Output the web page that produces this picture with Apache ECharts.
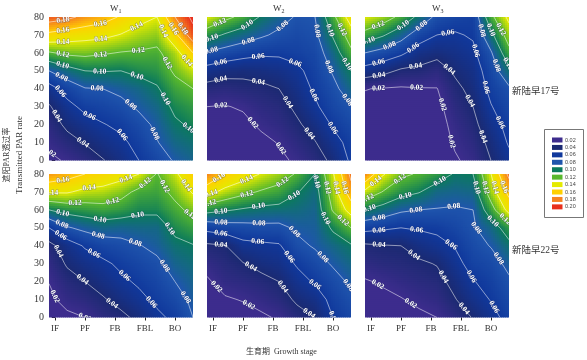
<!DOCTYPE html>
<html>
<head>
<meta charset="utf-8">
<style>html,body{margin:0;padding:0;background:#fff}#chart{width:587px;height:360px}</style>
<script src="https://cdn.jsdelivr.net/npm/echarts@6/dist/echarts.min.js"></script>
</head>
<body>
<div id="chart"></div>
<script>
const stages = ['IF', 'PF', 'FB', 'FBL', 'BO']
const xNodes = [-0.2, 0.4, 1.0, 1.6, 2.2, 2.8, 3.4, 4.0, 4.6]
const yNodes = [80, 70, 60, 50, 40, 30, 20, 10, 0]
const levels = [0.02, 0.04, 0.06, 0.08, 0.10, 0.12, 0.14, 0.16, 0.18, 0.20]
const levelColors = ['#3d2c8d', '#1b2a72', '#10389c', '#1f55ad', '#0b7a5c', '#58b82c', '#e4ea00', '#ffd000', '#f58220', '#e8301c']
const waterNames = ['1', '2', '3']
const varieties = ['新陆早17号', '新陆早22号']

// rows run from 80 down to 0, columns follow xNodes
const w1v17 = [
  [.190, .185, .175, .168, .158, .147, .140, .180, .205],
  [.155, .150, .147, .145, .139, .132, .128, .155, .192],
  [.118, .124, .125, .122, .119, .118, .116, .132, .160],
  [.080, .092, .100, .101, .100, .105, .108, .123, .136],
  [.052, .068, .079, .080, .085, .090, .098, .113, .120],
  [.038, .054, .065, .069, .074, .083, .090, .104, .110],
  [.030, .044, .052, .059, .064, .073, .084, .097, .103],
  [.024, .033, .041, .049, .056, .066, .079, .090, .095],
  [.016, .022, .030, .039, .048, .060, .070, .082, .088]
]
const w2v17 = [
  [.140, .125, .115, .098, .088, .078, .080, .115, .150],
  [.108, .098, .090, .083, .076, .072, .076, .102, .130],
  [.078, .072, .067, .063, .063, .066, .071, .090, .116],
  [.052, .047, .045, .047, .050, .056, .067, .082, .100],
  [.033, .031, .034, .036, .040, .050, .063, .075, .090],
  [.020, .019, .022, .029, .033, .044, .057, .070, .079],
  [.015, .014, .015, .023, .028, .037, .048, .062, .072],
  [.012, .011, .012, .015, .021, .030, .039, .053, .066],
  [.010, .010, .010, .012, .016, .023, .032, .044, .063]
]
const w3v17 = [
  [.140, .130, .115, .095, .075, .069, .065, .115, .145],
  [.113, .102, .088, .070, .060, .058, .062, .095, .130],
  [.080, .073, .064, .050, .046, .050, .056, .078, .114],
  [.052, .046, .037, .036, .030, .043, .050, .070, .095],
  [.0205, .019, .018, .019, .0195, .035, .046, .065, .077],
  [.016, .015, .014, .014, .015, .030, .040, .059, .071],
  [.013, .012, .012, .012, .013, .025, .035, .052, .066],
  [.011, .011, .011, .011, .011, .022, .030, .045, .062],
  [.010, .010, .010, .010, .010, .018, .025, .040, .055]
]
const w1v22 = [
  [.175, .168, .160, .155, .148, .140, .119, .136, .160],
  [.142, .142, .135, .133, .127, .115, .113, .125, .142],
  [.100, .107, .110, .113, .110, .104, .104, .115, .125],
  [.060, .078, .085, .090, .088, .090, .090, .105, .112],
  [.034, .050, .062, .070, .074, .079, .085, .095, .099],
  [.027, .042, .050, .056, .064, .070, .076, .088, .093],
  [.0205, .033, .040, .048, .056, .063, .070, .080, .088],
  [.016, .026, .031, .038, .047, .055, .064, .072, .084],
  [.013, .016, .020, .030, .035, .045, .056, .064, .080]
]
const w2v22 = [
  [.180, .160, .150, .139, .130, .118, .100, .138, .185],
  [.147, .134, .125, .118, .113, .101, .092, .130, .172],
  [.107, .102, .098, .095, .094, .092, .088, .122, .148],
  [.066, .071, .073, .075, .075, .083, .085, .103, .120],
  [.0365, .039, .054, .056, .058, .075, .082, .090, .098],
  [.026, .033, .039, .046, .050, .062, .072, .082, .090],
  [.0175, .027, .030, .034, .040, .053, .062, .073, .083],
  [.014, .018, .021, .026, .032, .043, .050, .066, .076],
  [.012, .013, .013, .017, .022, .033, .040, .060, .070]
]
const w3v22 = [
  [.180, .142, .124, .118, .110, .098, .100, .140, .185],
  [.135, .119, .107, .101, .090, .088, .090, .130, .166],
  [.100, .092, .083, .080, .079, .078, .080, .112, .147],
  [.066, .063, .060, .062, .064, .070, .078, .090, .110],
  [.037, .039, .040, .048, .054, .061, .073, .081, .095],
  [.028, .032, .034, .037, .041, .054, .067, .072, .085],
  [.0185, .022, .027, .031, .034, .046, .059, .066, .077],
  [.015, .016, .019, .024, .028, .039, .051, .061, .072],
  [.012, .012, .014, .016, .020, .030, .041, .053, .067]
]
const panels = [w1v17, w2v17, w3v17, w1v22, w2v22, w3v22]

const serif = '"Liberation Serif", "Noto Sans CJK SC", serif'
const plotLefts = [49, 207, 365]
const plotTops = [17, 174]
const plotSize = 144
const plotHeight = 143.5
const titleLefts = [110, 273, 432]

const hex2rgb = function (hex) {
  return [1, 3, 5].map(i => parseInt(hex.substr(i, 2), 16))
}
const levelRgb = levelColors.map(hex2rgb)

//数值转颜色
const colorOf = function (v) {
  const t = Math.max(0, Math.min(levels.length - 1, (v - levels[0]) / 0.02))
  const i = Math.min(levels.length - 2, Math.floor(t))
  const f = t - i
  const c = levelRgb[i].map((a, k) => Math.round(a + (levelRgb[i + 1][k] - a) * f))
  return `rgb(${c[0]},${c[1]},${c[2]})`
}

//网格单元，每格四角的值
const cellData = function (vals) {
  const list = []
  for (let r = 0; r < yNodes.length - 1; r++) {
    for (let c = 0; c < xNodes.length - 1; c++) {
      list.push([xNodes[c], yNodes[r], xNodes[c + 1], yNodes[r + 1],
        vals[r][c], vals[r][c + 1], vals[r + 1][c], vals[r + 1][c + 1]])
    }
  }
  return list
}

const renderCell = function (params, api) {
  const sub = 9
  const x0 = api.value(0), y0 = api.value(1), x1 = api.value(2), y1 = api.value(3)
  const a = api.value(4), b = api.value(5), c = api.value(6), d = api.value(7)
  const p0 = api.coord([x0, y0]), p1 = api.coord([x1, y1])
  const w = (p1[0] - p0[0]) / sub, h = (p1[1] - p0[1]) / sub
  const children = []
  for (let i = 0; i < sub; i++) {
    for (let j = 0; j < sub; j++) {
      const u = (i + 0.5) / sub, t = (j + 0.5) / sub
      const v = (a * (1 - u) + b * u) * (1 - t) + (c * (1 - u) + d * u) * t
      children.push({
        type: 'rect',
        shape: {x: p0[0] + i * w, y: p0[1] + j * h, width: w + 0.6, height: h + 0.6},
        style: {fill: colorOf(v)},
        silent: true
      })
    }
  }
  return {type: 'group', children}
}

//等值线，单元格内线段再串成折线
const traceLevel = function (vals, level) {
  const hKey = (r, c) => 'h' + r + '_' + c
  const vKey = (r, c) => 'v' + r + '_' + c
  const point = function (key) {
    const [r, c] = key.slice(1).split('_').map(Number)
    if (key[0] === 'h') {
      const f = (level - vals[r][c]) / (vals[r][c + 1] - vals[r][c])
      return [xNodes[c] + (xNodes[c + 1] - xNodes[c]) * f, yNodes[r]]
    }
    const f = (level - vals[r][c]) / (vals[r + 1][c] - vals[r][c])
    return [xNodes[c], yNodes[r] + (yNodes[r + 1] - yNodes[r]) * f]
  }
  const links = {}
  const link = function (a, b) {
    (links[a] = links[a] || []).push(b);
    (links[b] = links[b] || []).push(a)
  }
  for (let r = 0; r < yNodes.length - 1; r++) {
    for (let c = 0; c < xNodes.length - 1; c++) {
      const edges = []
      if ((vals[r][c] >= level) !== (vals[r][c + 1] >= level)) edges.push(hKey(r, c))
      if ((vals[r][c + 1] >= level) !== (vals[r + 1][c + 1] >= level)) edges.push(vKey(r, c + 1))
      if ((vals[r + 1][c] >= level) !== (vals[r + 1][c + 1] >= level)) edges.push(hKey(r + 1, c))
      if ((vals[r][c] >= level) !== (vals[r + 1][c] >= level)) edges.push(vKey(r, c))
      if (edges.length === 2) link(edges[0], edges[1])
      if (edges.length === 4) {
        link(edges[0], edges[1])
        link(edges[2], edges[3])
      }
    }
  }
  const used = {}
  const lines = []
  const walk = function (start) {
    const line = [start]
    used[start] = true
    let cur = start
    while (true) {
      const next = links[cur].find(k => !used[k])
      if (!next) break
      used[next] = true
      line.push(next)
      cur = next
    }
    lines.push(line.map(point))
  }
  Object.keys(links).forEach(k => { if (links[k].length === 1 && !used[k]) walk(k) })
  Object.keys(links).forEach(k => { if (!used[k]) walk(k) })
  return lines
}

//每个面板的等值线，逐条渲染
const contourData = function (vals) {
  const list = []
  levels.forEach(level => {
    traceLevel(vals, level).forEach(line => list.push({level, line}))
  })
  return list
}

const makeContourRender = function (lines) {
  return function (params, api) {
    const item = lines[params.dataIndex]
    const pts = item.line.map(p => api.coord(p))
    const children = [{
      type: 'polyline',
      shape: {points: pts},
      style: {stroke: 'rgba(255,255,255,0.75)', fill: null, lineWidth: 0.7},
      silent: true
    }]
    let walked = 0
    let nextAt = 14
    for (let i = 1; i < pts.length; i++) {
      const dx = pts[i][0] - pts[i - 1][0], dy = pts[i][1] - pts[i - 1][1]
      const len = Math.sqrt(dx * dx + dy * dy)
      while (len > 0 && walked + len >= nextAt) {
        const f = (nextAt - walked) / len
        let angle = Math.atan2(-dy, dx)
        if (angle > Math.PI / 2) angle -= Math.PI
        if (angle < -Math.PI / 2) angle += Math.PI
        children.push({
          type: 'text',
          x: pts[i - 1][0] + dx * f,
          y: pts[i - 1][1] + dy * f,
          rotation: angle,
          style: {
            text: item.level.toFixed(2),
            font: 'bold 7.5px ' + serif,
            fill: '#fff',
            stroke: 'rgba(30,40,90,0.4)',
            lineWidth: 1,
            align: 'center',
            verticalAlign: 'middle'
          },
          silent: true
        })
        nextAt += 38
      }
      walked += len
    }
    return {type: 'group', children}
  }
}

const grids = [], xAxes = [], yAxes = [], series = []
panels.forEach((vals, idx) => {
  const col = idx % 3, row = Math.floor(idx / 3)
  grids.push({left: plotLefts[col], top: plotTops[row], width: plotSize, height: plotHeight})
  xAxes.push({
    gridIndex: idx,
    type: 'value',
    min: -0.2,
    max: 4.6,
    splitLine: {show: false},
    axisLine: {show: false},
    axisTick: {show: row === 1, customValues: [0, 1, 2, 3, 4], length: 3, lineStyle: {color: '#222', width: 1}},
    axisLabel: {
      show: row === 1,
      customValues: [0, 1, 2, 3, 4],
      formatter: v => stages[v],
      margin: 7,
      color: '#333',
      fontFamily: serif,
      fontSize: 9
    }
  })
  yAxes.push({
    gridIndex: idx,
    type: 'value',
    min: 0,
    max: 80,
    interval: 10,
    splitLine: {show: false},
    axisLine: {show: false},
    axisTick: {show: col === 0, length: 3, lineStyle: {color: '#222', width: 1}},
    axisLabel: {show: col === 0, margin: 5, color: '#333', fontFamily: serif, fontSize: 10}
  })
  series.push({
    type: 'custom',
    xAxisIndex: idx,
    yAxisIndex: idx,
    coordinateSystem: 'cartesian2d',
    clip: true,
    silent: true,
    renderItem: renderCell,
    encode: {x: 0, y: 1},
    data: cellData(vals)
  })
  const lines = contourData(vals)
  series.push({
    type: 'custom',
    xAxisIndex: idx,
    yAxisIndex: idx,
    coordinateSystem: 'cartesian2d',
    clip: true,
    silent: true,
    renderItem: makeContourRender(lines),
    encode: {x: 0, y: 1},
    data: lines.map(l => l.line[0])
  })
})

const graphics = []
waterNames.forEach((n, i) => {
  graphics.push({
    type: 'text',
    left: titleLefts[i],
    top: 4,
    style: {
      text: '{w|W}{s|' + n + '}',
      rich: {
        w: {font: '9px ' + serif, fill: '#333'},
        s: {font: '6px ' + serif, fill: '#333', padding: [5, 0, 0, 0]}
      }
    }
  })
})
varieties.forEach((name, i) => {
  graphics.push({
    type: 'text',
    left: 512,
    top: [87, 246][i],
    style: {text: name, font: '9.5px ' + serif, fill: '#333'}
  })
})
graphics.push({
  type: 'text',
  left: 246,
  top: 348,
  style: {text: '生育期  Growth stage', font: '8px ' + serif, fill: '#333'}
})
graphics.push({
  type: 'text',
  x: 7,
  y: 155,
  rotation: Math.PI / 2,
  style: {text: '遮阳PAR透过率', font: '8px ' + serif, fill: '#333', align: 'center', verticalAlign: 'middle'}
})
graphics.push({
  type: 'text',
  x: 20,
  y: 155,
  rotation: Math.PI / 2,
  style: {text: 'Transmitted PAR rate', font: '9px ' + serif, fill: '#333', align: 'center', verticalAlign: 'middle'}
})
//图例
graphics.push({
  type: 'rect',
  shape: {x: 544.5, y: 129.5, width: 39, height: 88},
  style: {fill: '#fff', stroke: '#777', lineWidth: 1}
})
levels.forEach((level, i) => {
  const y = 140 + i * 7.43
  graphics.push({
    type: 'rect',
    shape: {x: 552, y: y - 2.5, width: 10.5, height: 5},
    style: {fill: levelColors[i]}
  })
  graphics.push({
    type: 'text',
    x: 565,
    y: y,
    style: {text: level.toFixed(2), font: '5.5px "Liberation Sans", sans-serif', fill: '#444', verticalAlign: 'middle'}
  })
})

const chart = echarts.init(document.getElementById('chart'), null, {renderer: 'canvas'})
chart.setOption({
  animation: false,
  backgroundColor: '#fff',
  grid: grids,
  xAxis: xAxes,
  yAxis: yAxes,
  series: series,
  graphic: graphics
})
</script>
</body>
</html>
